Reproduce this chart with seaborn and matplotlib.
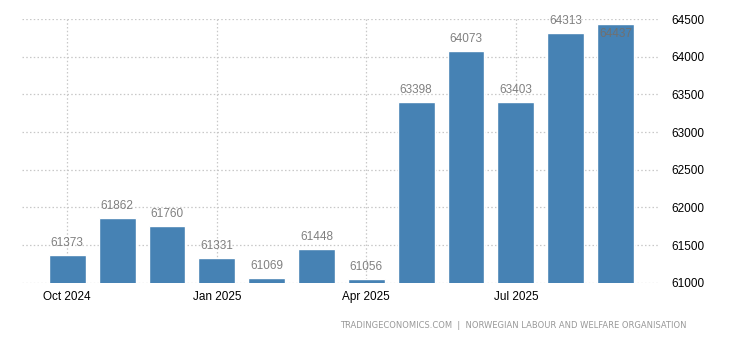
import matplotlib
matplotlib.use("Agg")
import matplotlib.pyplot as plt
import seaborn as sns
import pandas as pd

months = ["Oct 2024", "Nov 2024", "Dec 2024", "Jan 2025", "Feb 2025", "Mar 2025",
          "Apr 2025", "May 2025", "Jun 2025", "Jul 2025", "Aug 2025", "Sep 2025"]
values = [61373, 61862, 61760, 61331, 61069, 61448, 61056, 63398, 64073, 63403, 64313, 64437]
xtick_labels = ["Oct 2024", "Jan 2025", "Apr 2025", "Jul 2025"]
yticks = [61000, 61500, 62000, 62500, 63000, 63500, 64000, 64500]

sns.set_theme(style="white")
plt.rcParams['font.family'] = ['Liberation Sans', 'DejaVu Sans']

df = pd.DataFrame({"month": months, "value": values})

fig = plt.figure(figsize=(7.3, 3.4), dpi=100)
ax = fig.add_axes([0.030, 0.168, 0.874, 0.776])

sns.barplot(data=df, x="month", y="value", color="#4682B4", saturation=1,
            width=0.74, ax=ax, zorder=3)

ax.set_ylim(61000, 64500)
ax.set_xlim(-0.91, 11.89)
ax.set_yticks(yticks)
ax.set_yticklabels([str(t) for t in yticks])
ax.yaxis.tick_right()
ax.tick_params(axis="y", length=0, labelsize=8.5, labelcolor="black", pad=8)

xpos = [months.index(m) for m in xtick_labels]
ax.set_xticks(xpos)
ax.set_xticklabels(xtick_labels)
ax.tick_params(axis="x", length=4, color="#cccccc", labelsize=8.5, labelcolor="black", pad=2)

ax.grid(True, axis="both", linestyle=(0, (1.2, 1.8)), color="#c8c8c8", linewidth=0.9, zorder=0)
for s in ax.spines.values():
    s.set_visible(False)
ax.set_xlabel("")
ax.set_ylabel("")

for i, v in enumerate(values):
    if v > 64350:
        ax.annotate(str(v), (i, v), xytext=(0, -10), textcoords="offset pixels",
                    ha="center", va="center", fontsize=8.5, color="#707070", zorder=4)
    else:
        ax.annotate(str(v), (i, v), xytext=(0, 12), textcoords="offset pixels",
                    ha="center", va="center", fontsize=8.5, color="#808080", zorder=4)

fig.text(0.94, 0.044, "TRADINGECONOMICS.COM  |  NORWEGIAN LABOUR AND WELFARE ORGANISATION",
         ha="right", va="center", fontsize=6, color="#999999", family="DejaVu Sans")

fig.savefig("out.png", dpi=100)
